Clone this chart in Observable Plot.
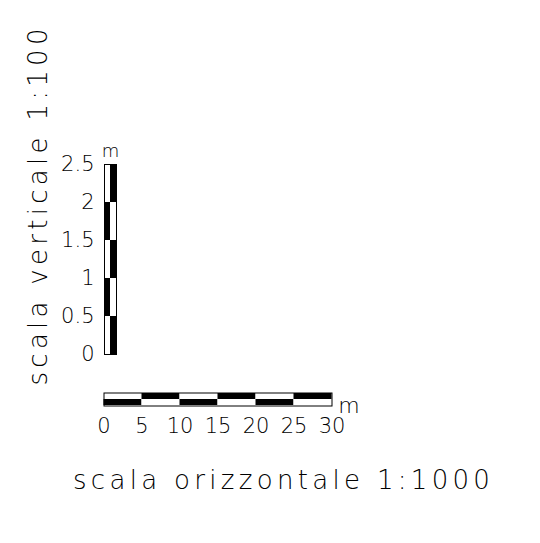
<!DOCTYPE html>
<html><head><meta charset="utf-8">
<script src="https://cdn.jsdelivr.net/npm/d3@7"></script>
<script src="https://cdn.jsdelivr.net/npm/@observablehq/plot@0.6"></script>
<style>
body{margin:0;background:#fff}
#chart{position:relative;width:540px;height:543px}
#chart svg{position:absolute;left:0;top:0;overflow:visible;background:transparent}
#chart text{font-family:"DejaVu Sans", sans-serif;font-weight:200;fill:#000}
</style></head><body><div id="chart"></div>
<script>
// horizontal scale 1:1000 (metres)
const hTicks = [0, 5, 10, 15, 20, 25, 30];
const hRows = ["top", "bottom"];
// vertical scale 1:100 (metres)
const vTicks = [0, 0.5, 1, 1.5, 2, 2.5];
const vCols = ["left", "right"];
const unit = "m";
const hTitle = "scala orizzontale 1:1000";
const vTitle = "scala verticale 1:100";

const hSegs = [];
hRows.forEach((row, r) => {
  for (let i = 0; i < hTicks.length - 1; i++)
    hSegs.push({row, start: hTicks[i], end: hTicks[i + 1], black: (i + r) % 2 === 1});
});
const vSegs = [];
vCols.forEach((col, c) => {
  for (let j = 0; j < vTicks.length - 1; j++)
    vSegs.push({col, start: vTicks[j], end: vTicks[j + 1], black: (j + c) % 2 === 1});
});
const fill = d => d.black ? "black" : "white";

const horiz = Plot.plot({
  width: 540, height: 543,
  marginTop: 392.5, marginBottom: 137.5, marginLeft: 103.5, marginRight: 208.5,
  x: {domain: [0, 30], axis: null},
  y: {type: "band", domain: hRows, padding: 0, axis: null},
  style: {background: "transparent"},
  marks: [
    Plot.barX(hSegs, {x1: "start", x2: "end", y: "row", fill}),
    Plot.frame({stroke: "black", strokeWidth: 1}),
    Plot.text(hTicks, {x: d => d, frameAnchor: "bottom", lineAnchor: "middle", textAnchor: "middle", dy: 20, fontSize: 21}),
    Plot.text([unit], {frameAnchor: "bottom-right", lineAnchor: "middle", textAnchor: "middle", dx: 17, dy: 0, fontSize: 22}),
    Plot.text([hTitle], {frameAnchor: "bottom-left", lineAnchor: "middle", textAnchor: "start", dx: -31, dy: 74.2, fontSize: 26})
  ]
});

const vert = Plot.plot({
  width: 540, height: 543,
  marginTop: 164, marginBottom: 189, marginLeft: 104, marginRight: 424,
  x: {type: "band", domain: vCols, padding: 0, axis: null},
  y: {domain: [0, 2.5], axis: null},
  style: {background: "transparent"},
  marks: [
    Plot.barY(vSegs, {x: "col", y1: "start", y2: "end", fill}),
    Plot.frame({stroke: "black", strokeWidth: 1}),
    Plot.text(vTicks, {y: d => d, frameAnchor: "left", lineAnchor: "middle", textAnchor: "end", dx: -10, fontSize: 21}),
    Plot.text([unit], {frameAnchor: "top", lineAnchor: "middle", textAnchor: "middle", dy: -13, fontSize: 18}),
    Plot.text([vTitle], {frameAnchor: "left", lineAnchor: "middle", textAnchor: "start", rotate: -90, dx: -65.6, dy: 126, fontSize: 26})
  ]
});

document.getElementById("chart").append(vert, horiz);

// spread the title letters like the CAD lettering of the reference
const spans = new Map([[hTitle, 417], [vTitle, 357]]);
d3.selectAll("#chart text").each(function () {
  const span = spans.get(this.textContent);
  if (!span) return;
  const n = this.textContent.length;
  const w = this.getComputedTextLength();
  this.style.letterSpacing = ((span - w) / (n - 1)).toFixed(2) + "px";
});
</script></body></html>
